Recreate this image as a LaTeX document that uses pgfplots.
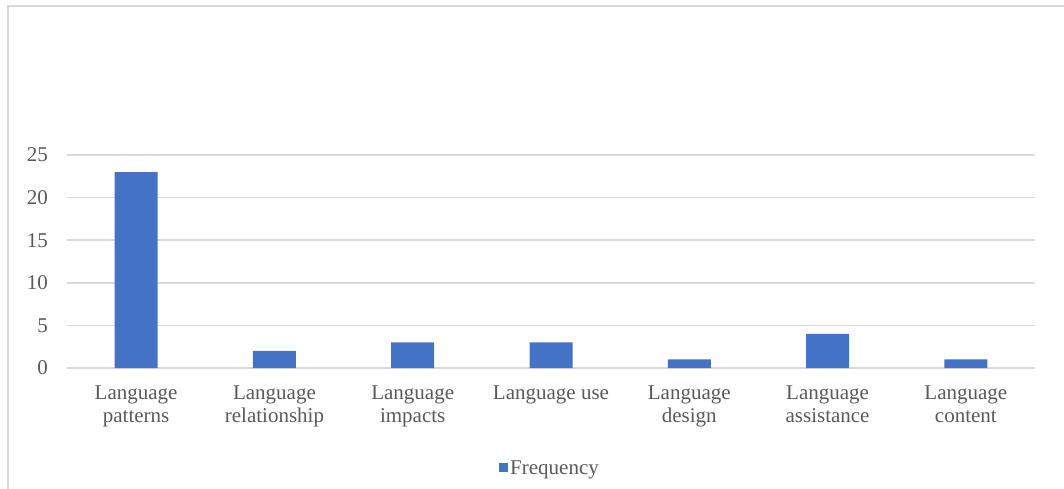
\documentclass[border=0pt]{standalone}
\usepackage{fontspec}
\setmainfont{Liberation Serif}
\usepackage{pgfplots}
\pgfplotsset{compat=1.18}
\definecolor{barblue}{HTML}{4472C4}
\definecolor{txtgray}{HTML}{595959}
\definecolor{gridgray}{HTML}{D9D9D9}
\definecolor{framegray}{HTML}{D9D9D9}

\begin{document}
\begin{tikzpicture}
% page area and chart frame (top and left edges)
\path[use as bounding box] (0,0) rectangle (1064pt,488pt);
\draw[framegray, line width=2pt] (8pt,-10pt) -- (8pt,482pt) -- (1074pt,482pt);
\begin{axis}[
  at={(67pt,120pt)}, anchor=south west,
  scale only axis, width=968pt, height=213pt,
  ymin=0, ymax=25, ytick={0,5,...,25},
  xmin=-0.5, xmax=6.5,
  xtick=data,
  xticklabels={{Language\\patterns},{Language\\relationship},{Language\\impacts},{Language use},{Language\\design},{Language\\assistance},{Language\\content}},
  axis line style={draw=none},
  major tick length=0pt,
  ymajorgrids, grid style={gridgray, line width=1.5pt},
  every tick label/.append style={font=\fontsize{21}{23}\selectfont, text=txtgray},
  xticklabel style={align=center, anchor=north, inner sep=0pt, yshift=-18pt},
  yticklabel style={anchor=east, inner sep=0pt, xshift=-19pt},
  /pgf/number format/assume math mode=true,
  ybar, bar width=43pt,
  legend style={at={(0.499,-0.469)}, anchor=center, draw=none, fill=none,
    font=\fontsize{21}{23}\selectfont, text=txtgray, inner sep=0pt,
    /tikz/every even column/.append style={column sep=0pt}},
  legend image code/.code={\fill[barblue] (0pt,-4.5pt) rectangle (9pt,4.5pt);},
  clip=false,
]
\addplot[fill=barblue, draw=none] coordinates {(0,23) (1,2) (2,3) (3,3) (4,1) (5,4) (6,1)};
\addlegendentry{Frequency}
\end{axis}
\end{tikzpicture}
\end{document}
